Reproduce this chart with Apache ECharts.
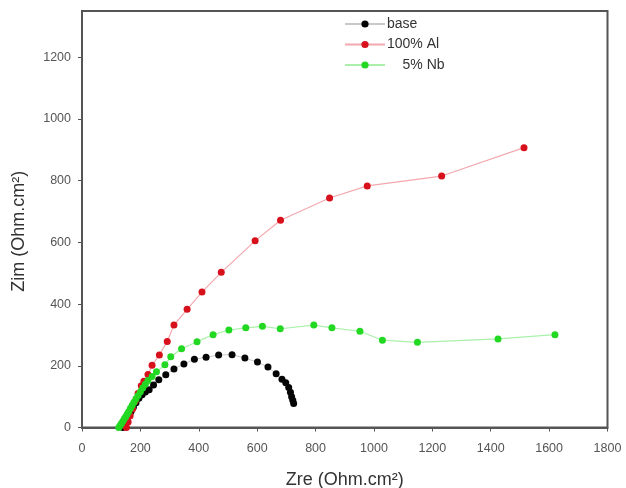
<!DOCTYPE html>
<html>
<head>
<meta charset="utf-8">
<script src="https://cdn.jsdelivr.net/npm/echarts@6/dist/echarts.min.js"></script>
<style>
html,body{margin:0;padding:0;background:#fff;}
#chart{width:626px;height:488px;}
</style>
</head>
<body>
<div id="chart"></div>
<script>
// Series names
const seriesNames = ['base', '100% Al', '5% Nb'];

// base (black)
const baseX = [140,144,149,155,161,168,176,185,195,206,217,230,245,263,287,315,349,385,425,468,514,558,601,637,665,685,698,708,714,718,722,725];
const baseY = [0,8,17,28,40,52,66,80,95,106,115,122,138,155,171,190,206,221,228,235,236,225,212,196,174,156,145,130,114,100,88,78];

// 100% Al (red)
const alX = [152,158,165,173,182,192,203,212,226,240,265,292,315,360,411,477,593,680,848,977,1232,1514];
const alY = [0,18,38,60,85,110,135,150,172,202,235,279,332,383,439,503,605,672,744,783,815,907];

// 5% Nb (green)
const nbX = [126,130,135,140,145,150,155,160,166,172,178,185,192,200,208,217,226,240,255,284,304,341,394,449,503,561,618,679,794,856,952,1029,1149,1425,1620];
const nbY = [0,6,13,20,28,36,44,52,62,72,82,93,104,116,128,140,152,165,181,203,229,255,278,301,316,323,328,320,332,323,312,283,276,287,301];

// Axis ticks
const xTicks = [0,200,400,600,800,1000,1200,1400,1600,1800];
const yTicks = [0,200,400,600,800,1000,1200];

function pairs(xs, ys){ return xs.map((x,i)=>[x, ys[i]]); }

const chart = echarts.init(document.getElementById('chart'), null, {renderer:'canvas'});
const axisCol = '#555';
const font = 'Liberation Sans, Arial, sans-serif';
const labelStyle = {color:'#555', fontSize:12.5, fontFamily:font, formatter:function(v){return String(v);}};

chart.setOption({
  animation:false,
  backgroundColor:'#fff',
  grid:{left:82, right:18.5, top:11, bottom:60.5, outerBoundsMode:'none', containLabel:false,
        show:true, borderColor:axisCol, borderWidth:2, backgroundColor:'transparent'},
  legend:{
    orient:'vertical', left:339, top:12, itemWidth:40, itemHeight:9, itemGap:6.5,
    data:seriesNames,
    formatter:function(n){ return n==='5% Nb' ? '    5% Nb' : n; },
    textStyle:{color:'#333', fontSize:14, fontFamily:font, padding:[0,0,0,-3]}
  },
  xAxis:{
    type:'value', min:0, max:1800, interval:200,
    name:'Zre (Ohm.cm²)', nameLocation:'middle', nameGap:44,
    nameTextStyle:{color:'#333', fontSize:18, fontFamily:font},
    axisLine:{show:true, onZero:false, lineStyle:{color:axisCol, width:2}},
    axisTick:{show:true, length:4, lineStyle:{color:axisCol}, customValues:xTicks},
    axisLabel:Object.assign({margin:15, customValues:xTicks}, labelStyle),
    splitLine:{show:false}
  },
  yAxis:{
    type:'value', min:0, max:1350, interval:200,
    name:'Zim (Ohm.cm²)', nameLocation:'middle', nameGap:54,
    nameTextStyle:{color:'#333', fontSize:18, fontFamily:font, padding:[0,24,0,0]},
    axisLine:{show:true, onZero:false, lineStyle:{color:axisCol, width:2}},
    axisTick:{show:true, length:4, lineStyle:{color:axisCol}, customValues:yTicks},
    axisLabel:Object.assign({margin:11, customValues:yTicks}, labelStyle),
    splitLine:{show:false}
  },
  series:[
    {name:seriesNames[0], type:'line', data:pairs(baseX, baseY), symbol:'circle', symbolSize:7,
     itemStyle:{color:'#050505'}, lineStyle:{color:'#c8c8c8', width:1}, z:2},
    {name:seriesNames[1], type:'line', data:pairs(alX, alY), symbol:'circle', symbolSize:7,
     itemStyle:{color:'#d8101c'}, lineStyle:{color:'#f2a8ae', width:1.2}, z:3},
    {name:seriesNames[2], type:'line', data:pairs(nbX, nbY), symbol:'circle', symbolSize:7,
     itemStyle:{color:'#22d822'}, lineStyle:{color:'#aaf0aa', width:1.2}, z:4}
  ]
});
</script>
</body>
</html>
